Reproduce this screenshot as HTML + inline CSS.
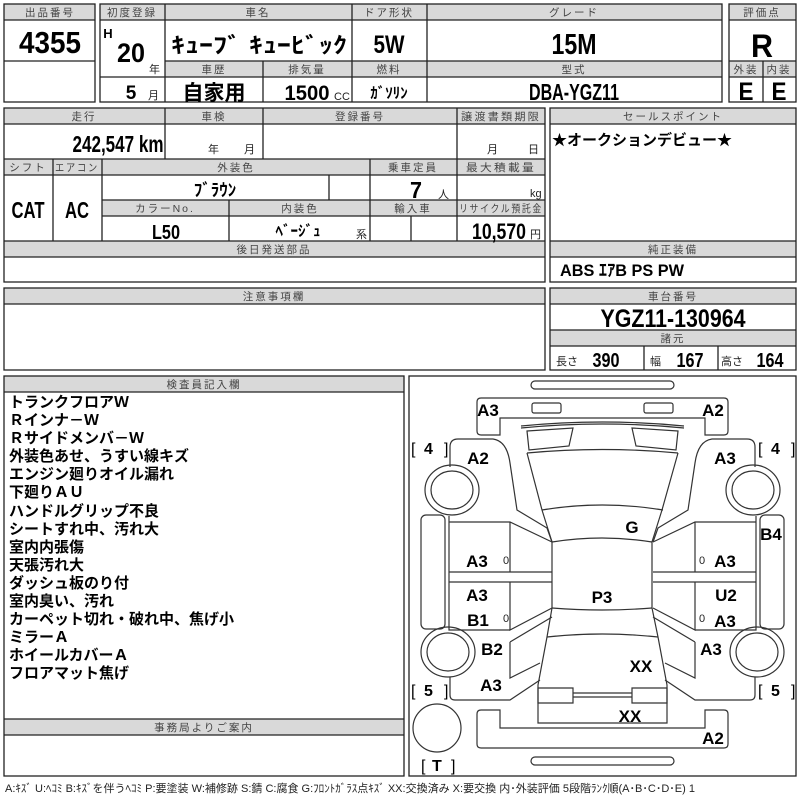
<!DOCTYPE html>
<html><head><meta charset="utf-8">
<style>
html,body{margin:0;padding:0;background:#fff;width:800px;height:800px;overflow:hidden}
svg{display:block}
.h{font-family:"Liberation Sans","Noto Sans CJK JP",sans-serif;font-size:10.5px;fill:#444;text-anchor:middle;letter-spacing:2px}
.v{font-family:"Liberation Sans","Noto Sans CJK JP",sans-serif;font-weight:bold;fill:#000;text-anchor:middle}
.j{font-family:"Liberation Sans","Noto Sans CJK JP",sans-serif;font-weight:bold;fill:#000}
.s{font-family:"Liberation Sans","Noto Sans CJK JP",sans-serif;fill:#222;font-size:11px}
.g{fill:#d9d9d9}
.b{fill:none;stroke:#222;stroke-width:1.3}
.d{fill:none;stroke:#333;stroke-width:1.2}
.lb{font-family:"Liberation Sans","Noto Sans CJK JP",sans-serif;font-weight:bold;font-size:17px;fill:#000;text-anchor:middle}
</style></head><body>
<svg width="800" height="800" viewBox="0 0 800 800" xmlns="http://www.w3.org/2000/svg">
<!-- Block 1 -->
<rect class="g" x="4" y="4" width="91" height="16"/>
<rect class="b" x="4" y="4" width="91" height="98"/>
<path class="b" d="M4,20H95M4,61H95"/>
<text class="h" x="50" y="16">出品番号</text>
<text class="v" x="50" y="53" font-size="31" textLength="62" lengthAdjust="spacingAndGlyphs">4355</text>

<!-- Block 2 -->
<rect class="g" x="100" y="4" width="622" height="16"/>
<rect class="g" x="165" y="61" width="557" height="16"/>
<rect class="b" x="100" y="4" width="622" height="98"/>
<path class="b" d="M100,20H722M165,61H722M100,77H722M165,4V102M352,4V102M427,4V102M263,61V102"/>
<text class="h" x="132" y="16" letter-spacing="0">初度登録</text>
<text class="h" x="258" y="16" letter-spacing="6">車名</text>
<text class="h" x="389" y="16" letter-spacing="0">ドア形状</text>
<text class="h" x="574" y="16" letter-spacing="8">グレード</text>
<text class="v" x="108" y="38" font-size="13">H</text>
<text class="v" x="131" y="62" font-size="27" textLength="28" lengthAdjust="spacingAndGlyphs">20</text>
<text class="s" x="149" y="73">年</text>
<text class="j" x="171" y="53" font-size="22" textLength="176" lengthAdjust="spacingAndGlyphs">ｷｭｰﾌﾞ ｷｭｰﾋﾞｯｸ</text>
<text class="v" x="389" y="53" font-size="25" textLength="31" lengthAdjust="spacingAndGlyphs">5W</text>
<text class="v" x="574" y="54" font-size="29" textLength="45" lengthAdjust="spacingAndGlyphs">15M</text>
<text class="h" x="214" y="73" letter-spacing="6">車歴</text>
<text class="h" x="307" y="73" letter-spacing="4">排気量</text>
<text class="h" x="389" y="73" letter-spacing="4">燃料</text>
<text class="h" x="574" y="73" letter-spacing="4">型式</text>
<text class="v" x="131" y="99" font-size="19">5</text>
<text class="s" x="148" y="99">月</text>
<text class="j" x="214" y="100" font-size="21" text-anchor="middle">自家用</text>
<text class="v" x="307" y="100" font-size="21" textLength="45" lengthAdjust="spacingAndGlyphs">1500</text>
<text class="s" x="334" y="100" font-size="10">CC</text>
<text class="j" x="389" y="98" font-size="15" text-anchor="middle">ｶﾞｿﾘﾝ</text>
<text class="v" x="574" y="100" font-size="23" textLength="90" lengthAdjust="spacingAndGlyphs">DBA-YGZ11</text>

<!-- Block 3 -->
<rect class="g" x="729" y="4" width="67" height="16"/>
<rect class="g" x="729" y="61" width="67" height="16"/>
<rect class="b" x="729" y="4" width="67" height="98"/>
<path class="b" d="M729,20H796M729,61H796M729,77H796M763,61V102"/>
<text class="h" x="762" y="16" letter-spacing="0">評価点</text>
<text class="v" x="762" y="57" font-size="32" textLength="22" lengthAdjust="spacingAndGlyphs">R</text>
<text class="h" x="746" y="73" letter-spacing="0">外装</text>
<text class="h" x="779" y="73" letter-spacing="0">内装</text>
<text class="v" x="746" y="100" font-size="25" textLength="15" lengthAdjust="spacingAndGlyphs">E</text>
<text class="v" x="779" y="100" font-size="25" textLength="15" lengthAdjust="spacingAndGlyphs">E</text>

<!-- Row 2 left -->
<rect class="g" x="4" y="108" width="541" height="16"/>
<rect class="g" x="4" y="159" width="541" height="16"/>
<rect class="g" x="102" y="200" width="443" height="16"/>
<rect class="g" x="4" y="241" width="541" height="16"/>
<rect class="b" x="4" y="108" width="541" height="174"/>
<path class="b" d="M4,124H545M4,159H545M4,175H545M102,200H545M102,216H545M4,241H545M4,257H545
M165,108V159M263,108V159M457,108V241M53,159V241M102,159V241M370,159V241M329,175V200M229,200V241M411,216V241"/>
<text class="h" x="84" y="120" letter-spacing="8">走行</text>
<text class="h" x="214" y="120" letter-spacing="6">車検</text>
<text class="h" x="360" y="120" letter-spacing="6">登録番号</text>
<text class="h" x="501" y="120" letter-spacing="0" textLength="80" lengthAdjust="spacingAndGlyphs">譲渡書類期限</text>
<text class="v" x="118" y="152" font-size="23" textLength="91" lengthAdjust="spacingAndGlyphs">242,547 km</text>
<text class="s" x="208" y="153">年</text>
<text class="s" x="244" y="153">月</text>
<text class="s" x="487" y="153">月</text>
<text class="s" x="528" y="153">日</text>
<text class="h" x="28" y="171" letter-spacing="0">シフト</text>
<text class="h" x="77" y="171" letter-spacing="0" textLength="44" lengthAdjust="spacingAndGlyphs">エアコン</text>
<text class="h" x="236" y="171" letter-spacing="4">外装色</text>
<text class="h" x="413" y="171" letter-spacing="0">乗車定員</text>
<text class="h" x="501" y="171" letter-spacing="0" textLength="70" lengthAdjust="spacingAndGlyphs">最大積載量</text>
<text class="j" x="215" y="196" font-size="17" text-anchor="middle">ﾌﾞﾗｳﾝ</text>
<text class="v" x="416" y="198" font-size="23" textLength="12" lengthAdjust="spacingAndGlyphs">7</text>
<text class="s" x="438" y="198">人</text>
<text class="s" x="530" y="197">kg</text>
<text class="v" x="28" y="218" font-size="23" textLength="33" lengthAdjust="spacingAndGlyphs">CAT</text>
<text class="v" x="77" y="218" font-size="23" textLength="24" lengthAdjust="spacingAndGlyphs">AC</text>
<text class="h" x="165" y="212" letter-spacing="5">カラーNo.</text>
<text class="h" x="300" y="212" letter-spacing="5">内装色</text>
<text class="h" x="413" y="212" letter-spacing="6">輸入車</text>
<text class="h" x="501" y="212" letter-spacing="0" textLength="84" lengthAdjust="spacingAndGlyphs">リサイクル預託金</text>
<text class="v" x="166" y="239" font-size="20" textLength="28" lengthAdjust="spacingAndGlyphs">L50</text>
<text class="j" x="298" y="236" font-size="15" text-anchor="middle">ﾍﾞｰｼﾞｭ</text>
<text class="s" x="356" y="238">系</text>
<text class="v" x="499" y="239" font-size="22" textLength="54" lengthAdjust="spacingAndGlyphs">10,570</text>
<text class="s" x="530" y="238">円</text>
<text class="h" x="274" y="253" letter-spacing="6">後日発送部品</text>

<!-- Row 2 right -->
<rect class="g" x="550" y="108" width="246" height="16"/>
<rect class="g" x="550" y="241" width="246" height="16"/>
<rect class="b" x="550" y="108" width="246" height="174"/>
<path class="b" d="M550,124H796M550,241H796M550,257H796"/>
<text class="h" x="673" y="120" letter-spacing="8">セールスポイント</text>
<text class="j" x="552" y="145" font-size="15">★オークションデビュー★</text>
<text class="h" x="673" y="253" letter-spacing="6">純正装備</text>
<text class="j" x="560" y="276" font-size="17" textLength="124" lengthAdjust="spacingAndGlyphs">ABS ｴｱB PS PW</text>

<!-- Row 3 -->
<rect class="g" x="4" y="288" width="541" height="16"/>
<rect class="b" x="4" y="288" width="541" height="82"/>
<path class="b" d="M4,304H545"/>
<text class="h" x="274" y="300" letter-spacing="4">注意事項欄</text>
<rect class="g" x="550" y="288" width="246" height="16"/>
<rect class="g" x="550" y="330" width="246" height="16"/>
<rect class="b" x="550" y="288" width="246" height="82"/>
<path class="b" d="M550,304H796M550,330H796M550,346H796M644,346V370M718,346V370"/>
<text class="h" x="673" y="300" letter-spacing="4">車台番号</text>
<text class="v" x="673" y="327" font-size="25" textLength="145" lengthAdjust="spacingAndGlyphs">YGZ11-130964</text>
<text class="h" x="673" y="342" letter-spacing="4">諸元</text>
<text class="s" x="556" y="365">長さ</text>
<text class="v" x="606" y="367" font-size="20" textLength="27" lengthAdjust="spacingAndGlyphs">390</text>
<text class="s" x="650" y="365">幅</text>
<text class="v" x="690" y="367" font-size="20" textLength="27" lengthAdjust="spacingAndGlyphs">167</text>
<text class="s" x="721" y="365">高さ</text>
<text class="v" x="770" y="367" font-size="20" textLength="27" lengthAdjust="spacingAndGlyphs">164</text>

<!-- Inspector -->
<rect class="g" x="4" y="376" width="400" height="16"/>
<rect class="g" x="4" y="719" width="400" height="16"/>
<rect class="b" x="4" y="376" width="400" height="400"/>
<path class="b" d="M4,392H404M4,719H404M4,735H404"/>
<text class="h" x="204" y="388" letter-spacing="4">検査員記入欄</text>
<text class="h" x="204" y="731" letter-spacing="8">事務局よりご案内</text>
<g class="j" font-size="15">
<text x="9" y="407">トランクフロアＷ</text>
<text x="9" y="425">Ｒインナ－Ｗ</text>
<text x="9" y="443">Ｒサイドメンバ－Ｗ</text>
<text x="9" y="461">外装色あせ、うすい線キズ</text>
<text x="9" y="479">エンジン廻りオイル漏れ</text>
<text x="9" y="497">下廻りＡＵ</text>
<text x="9" y="516">ハンドルグリップ不良</text>
<text x="9" y="534">シートすれ中、汚れ大</text>
<text x="9" y="552">室内内張傷</text>
<text x="9" y="570">天張汚れ大</text>
<text x="9" y="588">ダッシュ板のり付</text>
<text x="9" y="606">室内臭い、汚れ</text>
<text x="9" y="624">カーペット切れ・破れ中、焦げ小</text>
<text x="9" y="642">ミラーＡ</text>
<text x="9" y="660">ホイールカバーＡ</text>
<text x="9" y="678">フロアマット焦げ</text>
</g>
<text class="s" x="5" y="792" font-size="9" fill="#333" textLength="690" lengthAdjust="spacingAndGlyphs">A:ｷｽﾞ U:ﾍｺﾐ B:ｷｽﾞを伴うﾍｺﾐ P:要塗装 W:補修跡 S:錆 C:腐食 G:ﾌﾛﾝﾄｶﾞﾗｽ点ｷｽﾞ XX:交換済み X:要交換  内･外装評価  5段階ﾗﾝｸ順(A･B･C･D･E) 1</text>

<!-- Diagram -->
<rect class="b" x="409" y="376" width="387" height="400"/>
<g class="d">
<rect x="531" y="381" width="143" height="8" rx="4"/>
<rect x="531" y="757" width="143" height="8" rx="4"/>
<path d="M477,402Q477,398 481,398L724,398Q728,398 728,402L728,431Q728,435 724,435L705,435L705,418L500,418L500,435L481,435Q477,435 477,431Z"/>
<rect x="532" y="403" width="29" height="10" rx="2"/>
<rect x="644" y="403" width="29" height="10" rx="2"/>
<path d="M477,714Q477,710 481,710L500,710L500,728L705,728L705,710L724,710Q728,710 728,714L728,744Q728,748 724,748L481,748Q477,748 477,744Z"/>
<path d="M521,428Q602,420 684,428M521,426Q602,418 684,426"/>
<path d="M527,453Q602,446 678,453M542,510Q602,500 663,510M552,542Q602,534 652,542M552,608Q602,612 652,608M547,637Q602,631 658,637"/>
<path d="M527,453L542,510L552,542L552,608L547,637L538,685L538,723L667,723L667,685L658,637L652,608L652,542L662,510L678,453"/>
<path d="M538,688H573V703H538Z M632,688H667V703H632Z M573,693H632M573,697H632"/>
<circle cx="437" cy="728" r="24"/>
<g id="side">
<path d="M527,431L573,428L569,446L529,450Z"/>
<path d="M450,467L450,447Q450,439 458,439L493,439Q507,441 510,463L517,510L547,528L552,542"/>
<ellipse cx="452" cy="490" rx="27" ry="25"/>
<ellipse cx="452" cy="490" rx="21" ry="19"/>
<rect x="421" y="515" width="24" height="114" rx="5"/>
<path d="M449,516V630H510M449,522H510L552,542M510,522V572M449,572H552M449,582H552M510,582V630L552,608"/>
<ellipse cx="448" cy="652" rx="27" ry="25"/>
<ellipse cx="448" cy="652" rx="21" ry="19"/>
<path d="M510,642L552,617M510,642V678L540,663M450,677V695Q450,700 455,700L510,700L540,680"/>
</g>
<use href="#side" transform="matrix(-1,0,0,1,1205,0)"/>
</g>
<g class="lb">
<text x="488" y="416">A3</text><text x="713" y="416">A2</text>
<text x="478" y="464">A2</text><text x="725" y="464">A3</text>
<text x="632" y="533">G</text><text x="771" y="540">B4</text>
<text x="477" y="567">A3</text><text x="725" y="567">A3</text>
<text x="602" y="603">P3</text>
<text x="477" y="601">A3</text><text x="726" y="601">U2</text>
<text x="478" y="626">B1</text><text x="725" y="627">A3</text>
<text x="492" y="655">B2</text><text x="711" y="655">A3</text>
<text x="641" y="672">XX</text>
<text x="491" y="691">A3</text>
<text x="630" y="722">XX</text>
<text x="713" y="744">A2</text>
</g>
<g class="s" font-size="12" fill="#000">
<text x="503" y="564">0</text><text x="699" y="564">0</text>
<text x="503" y="622">0</text><text x="699" y="622">0</text>
</g>
<g font-family="Liberation Sans,sans-serif" font-size="16" fill="#000">
<text x="411" y="454">[</text><text x="424" y="454" font-weight="bold">4</text><text x="444" y="454">]</text>
<text x="758" y="454">[</text><text x="771" y="454" font-weight="bold">4</text><text x="791" y="454">]</text>
<text x="411" y="696">[</text><text x="424" y="696" font-weight="bold">5</text><text x="444" y="696">]</text>
<text x="758" y="696">[</text><text x="771" y="696" font-weight="bold">5</text><text x="791" y="696">]</text>
<text x="421" y="771">[</text><text x="432" y="771" font-weight="bold">T</text><text x="451" y="771">]</text>
</g>
</svg>
</body></html>
